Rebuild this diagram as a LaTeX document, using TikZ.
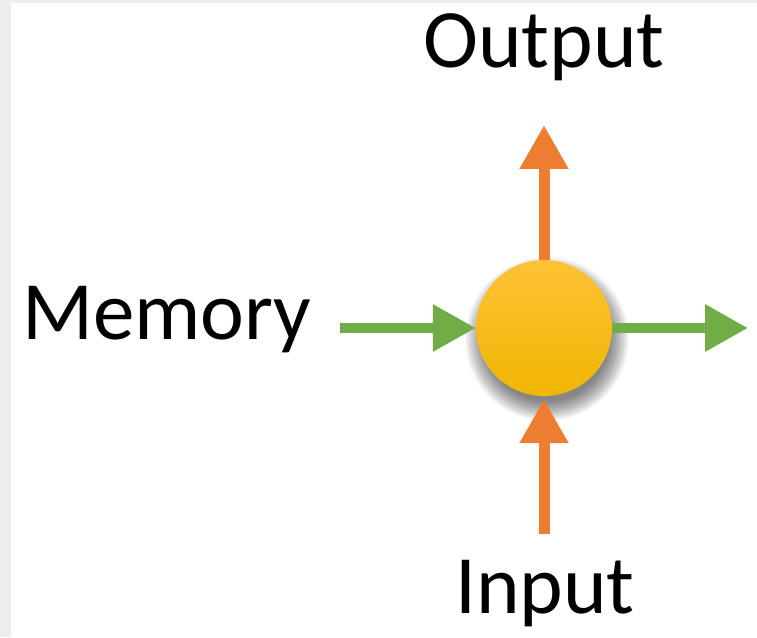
\documentclass[tikz,border=0pt]{standalone}
\usepackage{fontspec}
\setmainfont{Carlito}
\usetikzlibrary{arrows.meta}

\definecolor{frame}{HTML}{EDEDED}
\definecolor{flowOrange}{HTML}{ED7D31}
\definecolor{memGreen}{HTML}{70AD47}
\definecolor{goldTop}{HTML}{FDC236}
\definecolor{goldMid}{HTML}{FFC60E}
\definecolor{goldBot}{HTML}{F1B602}

\tikzset{
  label text/.style={font=\fontsize{83pt}{98pt}\selectfont, inner sep=0pt, text=black},
  cellball/.style={circle, minimum size=136pt, inner sep=0pt,
    top color=goldTop, middle color=goldMid, bottom color=goldBot},
  softshade/.style={fill=black, fill opacity=0.026, draw=none},
  ioarrow/.style={draw=flowOrange, line width=11pt,
    -{Triangle[length=44pt, width=46pt]}},
  memarrow/.style={draw=memGreen, line width=9.5pt,
    -{Triangle[length=43pt, width=45pt]}}
}

\begin{document}
\begin{tikzpicture}[x=1pt, y=1pt]
  % page and grey frame
  \fill[white] (0,0) rectangle (757,637);
  \fill[frame] (0,0) rectangle (11,637);
  \fill[frame] (0,634) rectangle (757,637);
  \useasboundingbox (0,0) rectangle (757,637);

  % soft drop shadow under the cell
  \foreach \r in {82,81,...,62} {
    \path[softshade] (547,298) circle[radius=\r];
  }

  % central cell
  \node[cellball] (cell) at (544,309) {};

  % labels
  \node[label text, anchor=base] (out) at (544,569) {Output};
  \node[label text, anchor=base west] (mem) at (22,297) {Memory};
  \node[label text, anchor=base] (in) at (545,24) {Input};

  % free arrow ends
  \coordinate (outTip) at (544,512);
  \coordinate (inFoot) at (544,103);
  \coordinate (memFoot) at (340,309);
  \coordinate (memTip) at (748,309);

  % connectors
  \draw[ioarrow] (cell.north) -- (outTip);
  \draw[ioarrow, shorten >=3pt] (inFoot) -- (cell.south);
  \draw[memarrow] (memFoot) -- (cell.west);
  \draw[memarrow] (cell.east) -- (memTip);
\end{tikzpicture}
\end{document}
